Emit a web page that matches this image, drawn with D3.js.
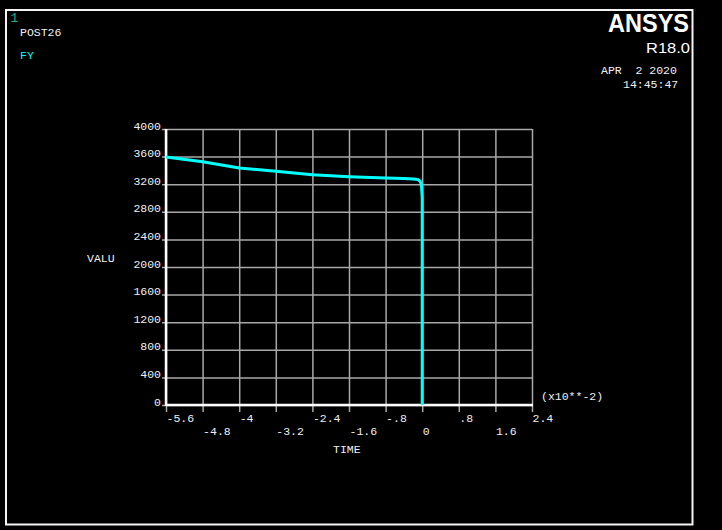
<!DOCTYPE html>
<html>
<head>
<meta charset="utf-8">
<script src="https://cdn.jsdelivr.net/npm/d3@7"></script>
<style>
  body { margin: 0; background: #000; }
  svg { display: block; }
  text { font-family: "Liberation Mono", "DejaVu Sans Mono", monospace; font-size: 11.5px; }
</style>
</head>
<body>
<svg id="chart"></svg>
<script>
// time values are shown in units of x10**-2
const times = [-5.6, -4.8, -4.0, -3.2, -2.4, -1.6, -0.8, -0.4, -0.2, -0.1, -0.05, -0.03, -0.015, 0, 0];
const fy = [3595, 3526, 3435, 3387, 3338, 3309, 3290, 3282, 3276, 3268, 3245, 3220, 3170, 3000, 0];

const timeTicks = [-5.6, -4.8, -4.0, -3.2, -2.4, -1.6, -0.8, 0, 0.8, 1.6, 2.4];
const timeLabels = ["-5.6", "-4.8", "-4", "-3.2", "-2.4", "-1.6", "-.8", "0", ".8", "1.6", "2.4"];
const valueTicks = [0, 400, 800, 1200, 1600, 2000, 2400, 2800, 3200, 3600, 4000];

const width = 722, height = 530;
const txt = "#f0f0f0";
const svg = d3.select("#chart").attr("width", width).attr("height", height);

svg.append("rect").attr("width", width).attr("height", height).attr("fill", "#000");

// outer frame
svg.append("rect")
	.attr("x", 6).attr("y", 10)
	.attr("width", 686.5).attr("height", 514.5)
	.attr("fill", "none").attr("stroke", "#f4f4f4").attr("stroke-width", 2);

const plot = { left: 166, right: 532, top: 129, bottom: 405 };

const x = d3.scaleLinear().domain([-5.6, 2.4]).range([plot.left, plot.right]);
const y = d3.scaleLinear().domain([0, 4000]).range([plot.bottom, plot.top]);

// vertical grid (runs a bit below the axis)
svg.append("g")
	.attr("transform", `translate(0,${plot.bottom + 7})`)
	.call(d3.axisBottom(x).tickValues(timeTicks).tickSize(-(plot.bottom + 7 - plot.top)).tickFormat(""))
	.call((g) => g.select(".domain").remove())
	.call((g) => g.selectAll("line").attr("stroke", "#a8a8a8").attr("stroke-width", 1.5));

// horizontal grid + value labels
svg.append("g")
	.attr("transform", `translate(${plot.left - 4},0)`)
	.call(d3.axisLeft(y).tickValues(valueTicks).tickFormat(d3.format("d"))
		.tickSize(-(plot.right - plot.left + 4)).tickPadding(0))
	.call((g) => g.select(".domain").remove())
	.call((g) => g.selectAll("line").attr("stroke", "#a8a8a8").attr("stroke-width", 1.5))
	.call((g) => g.selectAll("text").attr("x", -1).attr("dy", 0)
		.style("fill", txt).style("font-family", "Liberation Mono").style("font-size", "11.5px"));

// time labels, two staggered rows
svg.append("g")
	.attr("transform", `translate(0,${plot.bottom})`)
	.call(d3.axisBottom(x).tickValues(timeTicks).tickSize(0).tickFormat((d, i) => timeLabels[i]))
	.call((g) => g.select(".domain").remove())
	.call((g) => g.selectAll("text")
		.attr("text-anchor", "start")
		.attr("x", 0)
		.attr("dy", 0)
		.attr("y", (d, i) => (i % 2 === 0 ? 16.5 : 30.3))
		.style("fill", txt).style("font-family", "Liberation Mono").style("font-size", "11.5px"));

// axes
svg.append("line")
	.attr("x1", plot.left).attr("x2", plot.left)
	.attr("y1", plot.top).attr("y2", plot.bottom + 1)
	.attr("stroke", "#fff").attr("stroke-width", 2.5);
svg.append("line")
	.attr("x1", plot.left).attr("x2", plot.right + 1)
	.attr("y1", plot.bottom).attr("y2", plot.bottom)
	.attr("stroke", "#fff").attr("stroke-width", 2.5);

// curve
const line = d3.line().x((d, i) => x(times[i])).y((d) => y(d));
svg.append("path")
	.datum(fy)
	.attr("d", line)
	.attr("fill", "none")
	.attr("stroke", "#00ffff")
	.attr("stroke-width", 3)
	.attr("stroke-linejoin", "round");

// labels
function label(xp, yp, s, color) {
	return svg.append("text").attr("x", xp).attr("y", yp)
		.style("fill", color || txt).attr("xml:space", "preserve")
		.style("white-space", "pre").text(s);
}
label(87, 262, "VALU");
label(333, 452.5, "TIME");
label(541, 400, "(x10**-2)");

label(10.5, 21.7, "1", "#1fb08e").style("font-size", "13px");
label(20, 36, "POST26");
label(20, 58.5, "FY", "#00ffff");

label(689, 32.3, "ANSYS", "#fff")
	.attr("text-anchor", "end")
	.attr("textLength", 81).attr("lengthAdjust", "spacingAndGlyphs")
	.style("font-family", "'Liberation Sans', Arial, sans-serif")
	.style("font-size", "26.5px").style("font-weight", "bold");
label(690, 52.7, "R18.0", "#fff")
	.attr("text-anchor", "end")
	.attr("textLength", 44).attr("lengthAdjust", "spacingAndGlyphs")
	.style("font-family", "'Liberation Sans', Arial, sans-serif")
	.style("font-size", "15.5px");
label(601, 74, "APR  2 2020");
label(623, 88.3, "14:45:47");
</script>
</body>
</html>
